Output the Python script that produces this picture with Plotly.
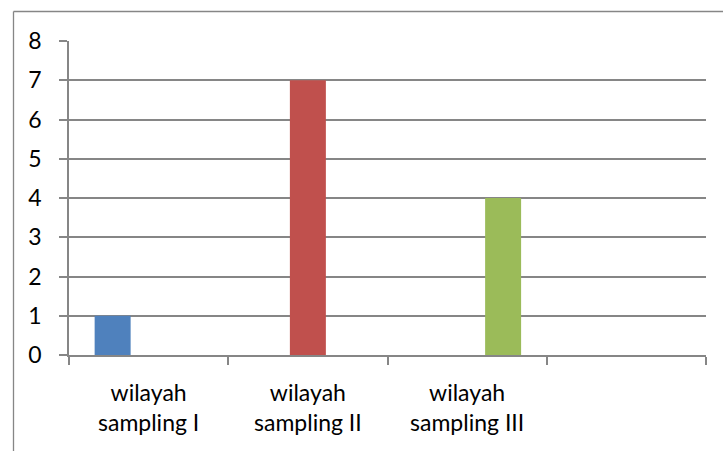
import plotly.graph_objects as go

# Category slots on the x axis (the fourth slot is empty)
categories = ["wilayah<br>sampling I", "wilayah<br>sampling II", "wilayah<br>sampling III", " "]

# One series per sampling area, each with a value in its own slot only
series_names = ["wilayah sampling I", "wilayah sampling II", "wilayah sampling III"]
series_values = [
    [1, None, None, None],
    [None, 7, None, None],
    [None, None, 4, None],
]
series_colors = ["#4F81BD", "#C0504D", "#9BBB59"]

y_ticks = [0, 1, 2, 3, 4, 5, 6, 7, 8]

W, H = 723, 451
L, R, T, B = 69, 17, 41, 96

fig = go.Figure()
for name, vals, col in zip(series_names, series_values, series_colors):
    fig.add_trace(go.Bar(x=categories, y=vals, name=name, marker=dict(color=col, line=dict(width=0))))

grey = "#868686"
font = dict(family="Lato, Carlito, Liberation Sans, sans-serif", size=23, color="#000000")

fig.update_layout(
    width=W, height=H,
    margin=dict(l=L, r=R, t=T, b=B, pad=0),
    barmode="group",
    bargap=0.322,
    bargroupgap=0,
    showlegend=False,
    plot_bgcolor="white",
    paper_bgcolor="white",
    font=font,
)

fig.update_xaxes(
    type="category",
    categoryorder="array", categoryarray=categories,
    showline=True, linecolor=grey, linewidth=1.5,
    ticks="outside", ticklen=8, tickcolor=grey, tickwidth=1.5,
    tickson="boundaries",
    showgrid=False,
    ticklabelstandoff=17,
    range=[-0.5, 3.5],
)
fig.update_yaxes(
    range=[0, 8],
    tickvals=y_ticks,
    showline=True, linecolor=grey, linewidth=1.5,
    ticks="outside", ticklen=8, tickcolor=grey, tickwidth=1.5,
    showgrid=True, gridcolor=grey, gridwidth=1.5,
    zeroline=False,
    ticklabelstandoff=13,
)

# Outer chart frame, extending past the right and bottom edges
pw, ph = W - L - R, H - T - B
x0 = (13.5 - L) / pw
y0 = (H - 11.5 - B) / ph
fig.add_shape(type="line", xref="paper", yref="paper",
              x0=x0, x1=(W + 5 - L) / pw, y0=y0, y1=y0,
              line=dict(color=grey, width=1.3))
fig.add_shape(type="line", xref="paper", yref="paper",
              x0=x0, x1=x0, y0=y0, y1=(-5 - B) / ph,
              line=dict(color=grey, width=1.3))

fig.write_html("out.html")
